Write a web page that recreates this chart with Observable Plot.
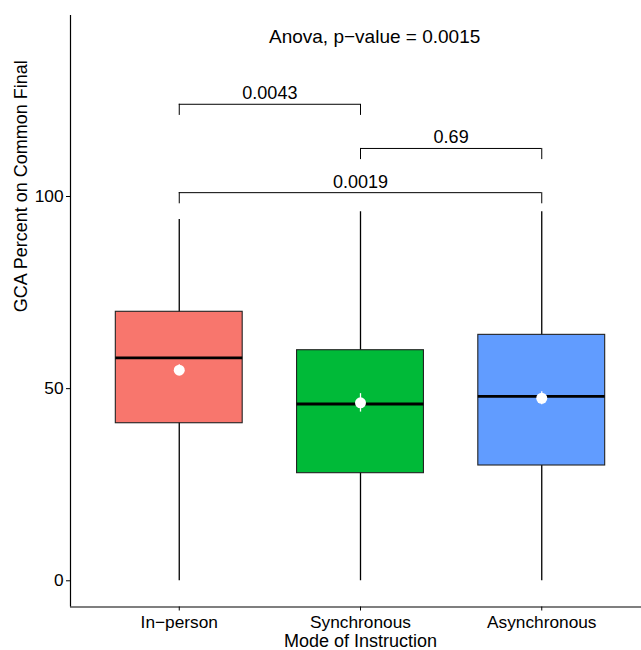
<!DOCTYPE html>
<html>
<head>
<meta charset="utf-8">
<script src="https://cdn.jsdelivr.net/npm/d3@7"></script>
<script src="https://cdn.jsdelivr.net/npm/@observablehq/plot@0.6"></script>
<style>
  html, body { margin: 0; padding: 0; background: white; overflow: hidden; }
</style>
</head>
<body>
<div id="chart"></div>
<script>
// ---- data ----
const groups = ["In−person", "Synchronous", "Asynchronous"];
const fills = ["#F8766D", "#00BA38", "#619CFF"];
const whiskerLow = [0, 0, 0];
const q1 = [41, 28, 30];
const median = [58, 46, 48];
const q3 = [70, 60, 64];
const whiskerHigh = [94, 96, 96];
const means = [54.8, 46.3, 47.5];
const meanErr = [1.4, 2.4, 1.7];

const cmpFrom = ["In−person", "Synchronous", "In−person"];
const cmpTo = ["Synchronous", "Asynchronous", "Asynchronous"];
const cmpLabel = ["0.0043", "0.69", "0.0019"];
const cmpY = [124, 112.5, 101];

const anovaLabel = "Anova, p−value = 0.0015";
const anovaPos = [2.078, 139.9];

const yTicks = [0, 50, 100];
const xTitle = "Mode of Instruction";
const yTitle = "GCA Percent on Common Final";

// ---- derived tables ----
const pos = g => groups.indexOf(g) + 1;
const boxes = groups.map((g, i) => ({
  g, x: i + 1, fill: fills[i], lo: whiskerLow[i], q1: q1[i], med: median[i],
  q3: q3[i], hi: whiskerHigh[i], mean: means[i], err: meanErr[i]
}));
const cmps = cmpFrom.map((a, i) => ({
  a: pos(a), b: pos(cmpTo[i]), label: cmpLabel[i], y: cmpY[i]
}));
const tip = 2.9;
const half = 0.35;
const xDomain = [0.4, 3.6];
const yDomain = [-6.82, 147.1];
const font = "'Liberation Sans', Arial, Helvetica, sans-serif";

const chart = Plot.plot({
  width: 641,
  height: 650,
  marginTop: 15,
  marginBottom: 43.5,
  marginLeft: 70,
  marginRight: 0,
  x: {domain: xDomain, range: [70, 650]},
  y: {domain: yDomain, range: [606.5, 15]},
  style: {fontFamily: font, fontSize: "17px", color: "black", background: "white"},
  marks: [
    // whiskers
    Plot.ruleX(boxes, {x: "x", y1: "lo", y2: "hi", stroke: "black", strokeWidth: 1.3}),
    // boxes
    Plot.rect(boxes, {x1: d => d.x - half, x2: d => d.x + half, y1: "q1", y2: "q3",
      fill: "fill", stroke: "#222", strokeWidth: 1.1}),
    // medians
    Plot.ruleY(boxes, {x1: d => d.x - half, x2: d => d.x + half, y: "med",
      stroke: "black", strokeWidth: 2.8}),
    // mean error bars
    Plot.ruleX(boxes, {x: "x", y1: d => d.mean - d.err, y2: d => d.mean + d.err,
      stroke: "white", strokeWidth: 1.3}),
    Plot.dot(boxes, {x: "x", y: "mean", r: 5.5, fill: "white", stroke: null}),
    // brackets
    Plot.ruleY(cmps, {x1: "a", x2: "b", y: "y", stroke: "black", strokeWidth: 1}),
    Plot.ruleX(cmps, {x: "a", y1: d => d.y - tip, y2: "y", stroke: "black", strokeWidth: 1}),
    Plot.ruleX(cmps, {x: "b", y1: d => d.y - tip, y2: "y", stroke: "black", strokeWidth: 1}),
    Plot.text(cmps, {x: d => (d.a + d.b) / 2, y: "y", text: "label", lineAnchor: "bottom",
      dy: -5, fontSize: 18, fill: "black"}),
    // anova label
    Plot.text([anovaLabel], {x: () => anovaPos[0], y: () => anovaPos[1], text: d => d,
      lineAnchor: "bottom", fontSize: 19, fill: "black"}),
    // axis lines
    Plot.ruleX([xDomain[0]], {stroke: "black", strokeWidth: 1.2}),
    Plot.ruleY([yDomain[0]], {stroke: "black", strokeWidth: 1.2}),
    // axes
    Plot.axisY(yTicks, {tickSize: 4, tickPadding: 3, fontSize: 17.3, label: null, stroke: "black", fill: "black"}),
    Plot.axisX([1, 2, 3], {tickSize: 4, tickPadding: 4.5, fontSize: 17.3, label: null,
      tickFormat: d => groups[d - 1], stroke: "black", fill: "black"}),
    // titles
    Plot.text([xTitle], {frameAnchor: "bottom", text: d => d, dx: 4.5, dy: 39.5,
      lineAnchor: "bottom", fontSize: 18, fill: "black"}),
    Plot.text([yTitle], {frameAnchor: "left", text: d => d, dx: -43.3, dy: 1, rotate: -90,
      lineAnchor: "bottom", fontSize: 18, fill: "black"})
  ]
});
document.getElementById("chart").appendChild(chart);
</script>
</body>
</html>
